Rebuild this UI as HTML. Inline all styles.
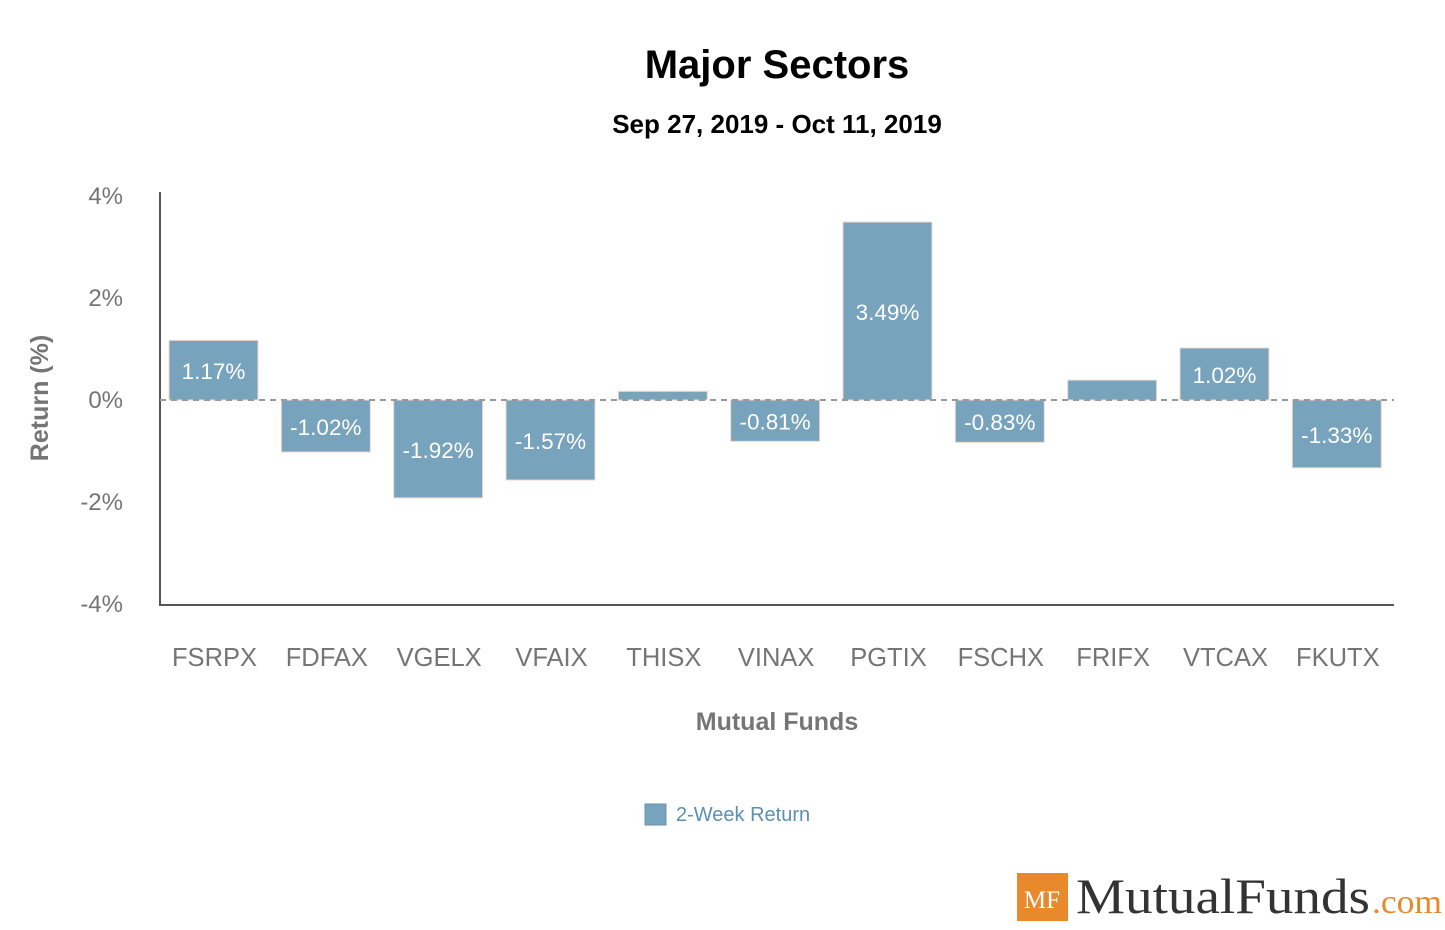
<!DOCTYPE html>
<html><head><meta charset="utf-8"><style>
body{margin:0;background:#fff;width:1445px;height:925px;overflow:hidden;font-family:"Liberation Sans",sans-serif;}
</style></head><body>
<svg width="1445" height="925" id="svg">
<text x="777" y="78" text-anchor="middle" font-size="40" font-weight="bold" fill="#000">Major Sectors</text>
<text x="777" y="133" text-anchor="middle" font-size="26" font-weight="bold" fill="#000">Sep 27, 2019 - Oct 11, 2019</text>
<text transform="translate(48,398) rotate(-90)" text-anchor="middle" font-size="25" font-weight="bold" fill="#757575">Return (%)</text>
<text x="777" y="730" text-anchor="middle" font-size="25" font-weight="bold" fill="#757575">Mutual Funds</text>
<g id="ticks"></g><g id="bars"></g>
<line x1="160" y1="192" x2="160" y2="605" stroke="#555" stroke-width="2"/>
<line x1="159" y1="605" x2="1394" y2="605" stroke="#555" stroke-width="2"/>
<line x1="160" y1="400" x2="1394" y2="400" stroke="#999" stroke-width="2" stroke-dasharray="6,5"/>
<g>
<rect x="645" y="804" width="21" height="21" fill="#78a3bd" stroke="#6a93ad"/>
<text x="676" y="821" font-size="20" fill="#5b8fb5">2-Week Return</text>
</g>
<g>
<rect x="1017" y="873" width="51" height="48" fill="#e8892c"/>
<text x="1042" y="908" text-anchor="middle" font-family="Liberation Serif,serif" font-size="25" fill="#fff">MF</text>
<text x="1076" y="913" font-family="Liberation Serif,serif" font-size="50" fill="#333" textLength="294" lengthAdjust="spacingAndGlyphs">MutualFunds</text>
<text x="1372" y="913" font-family="Liberation Serif,serif" font-size="34" fill="#e8892c" textLength="70" lengthAdjust="spacingAndGlyphs">.com</text>
</g>
</svg>
<script>
const categories=["FSRPX","FDFAX","VGELX","VFAIX","THISX","VINAX","PGTIX","FSCHX","FRIFX","VTCAX","FKUTX"];
const values=[1.17,-1.02,-1.92,-1.57,0.17,-0.81,3.49,-0.83,0.39,1.02,-1.33];
const labels=["1.17%","-1.02%","-1.92%","-1.57%","","-0.81%","3.49%","-0.83%","","1.02%","-1.33%"];
const yTicks=[4,2,0,-2,-4];
const yTickLabels=["4%","2%","0%","-2%","-4%"];
const NS="http://www.w3.org/2000/svg";
const y=v=>400-v*51;
const step=112.33;
const x=i=>213.5+step*i;
const tg=document.getElementById('ticks'),bg=document.getElementById('bars');
yTicks.forEach((t,i)=>{const e=document.createElementNS(NS,'text');
e.setAttribute('x',123);e.setAttribute('y',y(t)+8);e.setAttribute('text-anchor','end');e.setAttribute('font-size','24');e.setAttribute('fill','#757575');


e.textContent=yTickLabels[i];tg.appendChild(e);});
categories.forEach((c,i)=>{
const v=values[i];const r=document.createElementNS(NS,'rect');
r.setAttribute('x',x(i)-44.5);r.setAttribute('width',89);r.setAttribute('y',Math.min(y(v),400));r.setAttribute('height',Math.abs(y(v)-400));
r.setAttribute('fill','#78a3bd');r.setAttribute('stroke','#f2d8cc');r.setAttribute('stroke-width','1');


bg.appendChild(r);
if(labels[i]){const l=document.createElementNS(NS,'text');
l.setAttribute('x',x(i));l.setAttribute('y',(y(v)+400)/2+9);l.setAttribute('text-anchor','middle');l.setAttribute('font-size','22.5');l.setAttribute('fill','#fff');


l.textContent=labels[i];bg.appendChild(l);}
const t=document.createElementNS(NS,'text');
t.setAttribute('x',x(i)+1);t.setAttribute('y',666);t.setAttribute('text-anchor','middle');t.setAttribute('font-size','25.5');t.setAttribute('fill','#757575');


t.textContent=c;tg.appendChild(t);
});
</script>
</body></html>
